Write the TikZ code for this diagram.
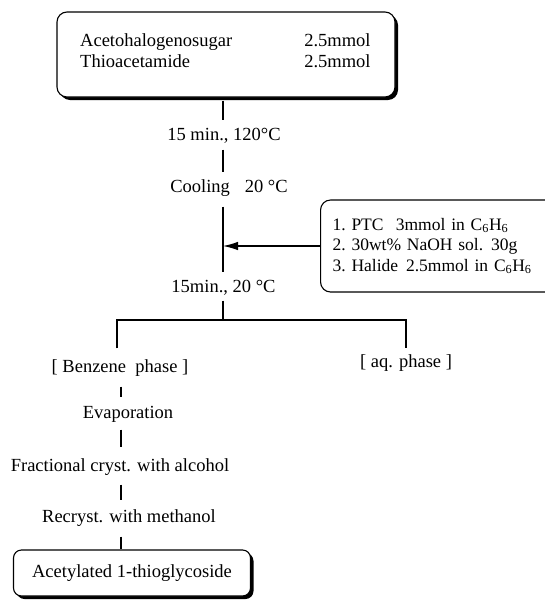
\documentclass[tikz,border=0pt]{standalone}
\usepackage{fontspec}
\setmainfont{Liberation Serif}
\usetikzlibrary{arrows.meta,shadows}

\begin{document}
\begin{tikzpicture}[x=1pt, y=-1pt,
    every node/.style={font=\fontsize{18.5}{21}\selectfont},
    stage/.style={inner sep=0pt, text height=13pt, text depth=4pt},
    box/.style={draw=black, line width=1.1pt, fill=white, rounded corners=10pt},
    shadowbox/.style={box, drop shadow={shadow xshift=3pt, shadow yshift=-3pt,
        fill=black, opacity=1}},
    link/.style={line width=1.1pt, shorten <=7pt, shorten >=7pt},
    feed/.style={line width=1.1pt, -{Latex[length=15pt, width=8.5pt]}}
]
    \useasboundingbox (0,0) rectangle (545,600);
    \coordinate (spine) at (223,0);
    \coordinate (lowspine) at (121,0);

    % starting materials
    \node[shadowbox, minimum width=338pt, minimum height=85pt] (src) at (226,54.5) {};
    \node[anchor=west, inner sep=0pt] (srctxt) at (80,52.5)
        {\begin{tabular}{@{}l@{\hspace{72pt}}l@{}}
         Acetohalogenosugar & 2.5mmol\\
         Thioacetamide & 2.5mmol
         \end{tabular}};

    \node[stage] (heat) at (224,136) {15 min., 120°C};
    \node[stage] (cool) at (229,188) {Cooling\hspace{0.8em}20 °C};
    \node[stage] (stir) at (223.5,288) {15min., 20 °C};

    % reagents added
    \node[box, anchor=west, minimum height=92pt, text width=220pt, inner xsep=12pt,
        align=left, font=\fontsize{17.5}{20.5}\selectfont\frenchspacing] (add) at (320,246)
        {1. PTC\hspace{0.7em}3mmol in C\textsubscript{6}H\textsubscript{6}\\
         2. 30wt\% NaOH sol.\hspace{0.45em}30g\\
         3. Halide\hspace{0.45em}2.5mmol in C\textsubscript{6}H\textsubscript{6}};

    \coordinate (join) at (223,246);
    \coordinate (split) at (223,320);
    \coordinate (splitL) at (117,320);
    \coordinate (splitR) at (406,320);

    % work-up
    \node[stage] (benz) at (120,368) {[ Benzene\ \ phase ]};
    \node[stage] (aq) at (406,363) {[ aq. phase ]};
    \node[stage] (evap) at (128,414) {Evaporation};
    \node[stage] (frac) at (120,467) {Fractional cryst. with alcohol};
    \node[stage] (recr) at (129,518) {Recryst. with methanol};
    \node[shadowbox, minimum width=237pt, minimum height=46pt, rounded corners=8pt]
        (prod) at (132,573) {Acetylated 1-thioglycoside};

    \draw[link, shorten <=3pt] (spine |- src.south) -- (spine |- heat.north);
    \draw[link, shorten <=5pt] (spine |- heat.south) -- (spine |- cool.north);
    \draw[link, shorten <=10pt] (spine |- cool.south) -- (spine |- stir.north);
    \draw[feed] (add.west) -- (join);
    \draw[link, shorten <=4pt, shorten >=0pt] (spine |- stir.south) -- (split);
    \draw[line width=1.1pt, shorten <=11pt, shorten >=6pt]
        (splitL |- benz.north) -- (splitL) -- (splitR) -- (splitR |- aq.north);
    \draw[link, shorten <=10pt, shorten >=8pt] (lowspine |- benz.south) -- (lowspine |- evap.north);
    \draw[link, shorten >=11pt] (lowspine |- evap.south) -- (lowspine |- frac.north);
    \draw[link, shorten <=9pt, shorten >=9pt] (lowspine |- frac.south) -- (lowspine |- recr.north);
    \draw[link, shorten <=10pt, shorten >=0pt] (lowspine |- recr.south) -- (lowspine |- prod.north);
\end{tikzpicture}
\end{document}
